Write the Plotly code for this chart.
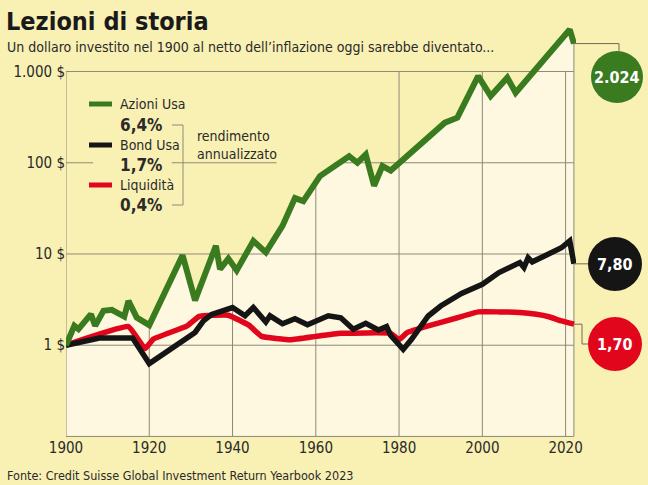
import plotly.graph_objects as go
import numpy as np

# ---------------- data ----------------
years_stocks = [1900, 1902, 1903, 1906, 1907, 1909, 1911, 1914, 1915, 1917,
                1920, 1928, 1931, 1936, 1937, 1939, 1941, 1945, 1948, 1952,
                1955, 1957, 1961, 1968, 1970, 1972, 1974, 1976, 1978, 1991,
                1994, 1999, 2002, 2006, 2008, 2021, 2022]
stocks = [1.0, 1.63, 1.5, 2.19, 1.63, 2.38, 2.44, 2.06, 3.06, 2.01,
          1.66, 9.7, 3.1, 12.3, 6.8, 8.9, 6.6, 13.9, 10.4, 20.3,
          41, 38, 71.5, 118, 100, 123, 56, 92, 82, 275,
          312, 890, 538, 855, 586, 2890, 2024]

years_bonds = [1900, 1908, 1916, 1920, 1931, 1933, 1935, 1940, 1943, 1945,
               1948, 1949, 1952, 1955, 1958, 1963, 1966, 1969, 1972, 1975,
               1977, 1978, 1981, 1983, 1987, 1990, 1995, 2000, 2004, 2009,
               2010, 2011, 2012, 2019, 2021, 2022]
bonds = [1.0, 1.2, 1.2, 0.63, 1.38, 1.85, 2.18, 2.59, 2.1, 2.59,
         1.8, 2.1, 1.72, 1.95, 1.68, 2.1, 2.0, 1.5, 1.74, 1.47,
         1.6, 1.28, 0.9, 1.16, 2.09, 2.69, 3.7, 4.65, 6.25, 8.05,
         7.1, 9.1, 8.2, 11.7, 13.9, 7.8]

years_cash = [1900, 1915, 1919, 1921, 1929, 1932, 1939, 1944, 1947, 1954,
              1960, 1966, 1978, 1980, 1982, 1987, 1994, 1999, 2004, 2009,
              2013, 2016, 2019, 2022]
cash = [1.0, 1.6, 0.92, 1.17, 1.62, 2.07, 2.13, 1.65, 1.25, 1.15,
        1.25, 1.35, 1.35, 1.15, 1.38, 1.63, 2.0, 2.32, 2.32, 2.28,
        2.18, 2.05, 1.85, 1.70]

x_ticks = [1900, 1920, 1940, 1960, 1980, 2000, 2020]
y_ticks = [1, 10, 100, 1000]
y_ticktext = ["1 $", "10 $", "100 $", "1.000 $"]

series_names = ["Azioni Usa", "Bond Usa", "Liquidità"]
series_returns = ["6,4%", "1,7%", "0,4%"]
final_labels = ["2.024", "7,80", "1,70"]

title = "Lezioni di storia"
subtitle = "Un dollaro investito nel 1900 al netto dell’inflazione oggi sarebbe diventato..."
source = "Fonte: Credit Suisse Global Investment Return Yearbook 2023"

# ---------------- style ----------------
W, H = 648, 485
ML, MR, MT, MB = 66, 72, 25, 48
X_RANGE = [1900, 2022.5]
Y_RANGE = [-1.006, 3.51]
BG = "#f9f0b4"
CREAM = "#fdf8df"
GRID = "#8e8a78"
GREEN = "#3a7b1f"
BLACK = "#151515"
RED = "#e2061c"
TXT = "#2a2a2a"
FONT = "DejaVu Sans Condensed, Liberation Sans Narrow, sans-serif"

PW = W - ML - MR
PH = H - MT - MB


def px(xp):
    return (xp - ML) / PW


def py(yp):
    return (H - MB - yp) / PH


def val_to_py(v):
    frac = (np.log10(v) - Y_RANGE[0]) / (Y_RANGE[1] - Y_RANGE[0])
    return H - MB - frac * PH


def year_to_px(yr):
    return ML + (yr - X_RANGE[0]) / (X_RANGE[1] - X_RANGE[0]) * PW


fig = go.Figure()

y_bottom = 10 ** -1
x_first, x_last = years_stocks[0], years_stocks[-1]

# baseline + cream fill under stocks
fig.add_trace(go.Scatter(x=[x_first, x_last], y=[y_bottom, y_bottom], mode="lines",
                         line=dict(width=0), hoverinfo="skip", showlegend=False))
fig.add_trace(go.Scatter(x=years_stocks, y=stocks, mode="lines", line=dict(width=0),
                         fill="tonexty", fillcolor=CREAM, hoverinfo="skip", showlegend=False))

# grid lines
gx, gy = [], []


def seg(x0, x1, y0, y1):
    gx.extend([x0, x1, None])
    gy.extend([y0, y1, None])


for v in [1, 10, 1000]:
    seg(x_first, x_last, v, v)
seg(x_first, x_last, y_bottom, y_bottom)
# 100$ line partially hidden by legend
seg(1900, 1906.5, 100, 100)
seg(1925.4, 1950.6, 100, 100)
seg(1964.5, x_last, 100, 100)
log_st = np.log10(stocks)
for xv in x_ticks[1:]:
    if xv < 1980:
        top = 10 ** np.interp(xv, years_stocks, log_st)
    else:
        top = 1000
    seg(xv, xv, y_bottom, top)
seg(x_first, x_first, y_bottom, 1000)
seg(x_last, x_last, y_bottom, stocks[-1])
fig.add_trace(go.Scatter(x=gx, y=gy, mode="lines", line=dict(color=GRID, width=1),
                         hoverinfo="skip", showlegend=False, connectgaps=False))

# data lines
fig.add_trace(go.Scatter(x=years_cash, y=cash, mode="lines", name=series_names[2],
                         line=dict(color=RED, width=5.5, shape="spline", smoothing=0.3), showlegend=False))
fig.add_trace(go.Scatter(x=years_bonds, y=bonds, mode="lines", name=series_names[1],
                         line=dict(color=BLACK, width=5.5), showlegend=False))
fig.add_trace(go.Scatter(x=years_stocks, y=stocks, mode="lines", name=series_names[0],
                         line=dict(color=GREEN, width=6), showlegend=False))

shapes = []
annotations = []

# legend
leg_colors = [GREEN, BLACK, RED]
leg_y = [104, 145, 185]
pct_y = [125, 165, 205]
for i in range(3):
    shapes.append(dict(type="line", xref="paper", yref="paper",
                       x0=px(89), x1=px(112), y0=py(leg_y[i]), y1=py(leg_y[i]),
                       line=dict(color=leg_colors[i], width=5)))
    annotations.append(dict(text=series_names[i], xref="paper", yref="paper",
                            x=px(118), y=py(leg_y[i]), xanchor="left", yanchor="middle",
                            showarrow=False, font=dict(family=FONT, size=14, color=TXT)))
    annotations.append(dict(text="<b>" + series_returns[i] + "</b>", xref="paper", yref="paper",
                            x=px(118), y=py(pct_y[i]), xanchor="left", yanchor="middle",
                            showarrow=False, font=dict(family=FONT, size=17, color=TXT)))
# bracket
shapes.append(dict(type="path", xref="paper", yref="paper",
                   path=f"M {px(172)} {py(125)} L {px(183)} {py(125)} L {px(183)} {py(205)} L {px(172)} {py(205)}",
                   line=dict(color=GRID, width=1)))
annotations.append(dict(text="rendimento<br>annualizzato", xref="paper", yref="paper",
                        x=px(195), y=py(145), xanchor="left", yanchor="middle", align="left",
                        showarrow=False, font=dict(family=FONT, size=14, color=TXT)))

# end labels with circles and connectors
ends = [stocks[-1], bonds[-1], cash[-1]]
circ_c = [(617, 77), (615, 264), (615, 344)]
circ_r = [26, 27, 27]
for i in range(3):
    cx, cy = circ_c[i]
    r = circ_r[i]
    shapes.append(dict(type="circle", xref="paper", yref="paper",
                       x0=px(cx - r), x1=px(cx + r), y0=py(cy + r), y1=py(cy - r),
                       fillcolor=leg_colors[i], line=dict(width=0)))
    annotations.append(dict(text="<b>" + final_labels[i] + "</b>", xref="paper", yref="paper",
                            x=px(cx), y=py(cy), xanchor="center", yanchor="middle",
                            showarrow=False, font=dict(family=FONT, size=16, color="white")))
xe = year_to_px(x_last)
ye = [val_to_py(v) for v in ends]
conn = [
    f"M {px(xe)} {py(ye[0])} L {px(619)} {py(ye[0])} L {px(619)} {py(circ_c[0][1] - circ_r[0])}",
    f"M {px(xe)} {py(ye[1])} L {px(circ_c[1][0] - circ_r[1])} {py(ye[1])}",
    f"M {px(xe)} {py(ye[2])} L {px(582)} {py(ye[2])} L {px(582)} {py(circ_c[2][1])} L {px(circ_c[2][0] - circ_r[2])} {py(circ_c[2][1])}",
]
for p in conn:
    shapes.append(dict(type="path", xref="paper", yref="paper", path=p,
                       line=dict(color="#6e6a5c", width=1)))

# titles
annotations.append(dict(text="<b>" + title + "</b>", xref="paper", yref="paper",
                        x=px(4), y=py(21), xanchor="left", yanchor="middle",
                        showarrow=False, font=dict(family=FONT, size=25, color="#1a1a1a")))
annotations.append(dict(text=subtitle, xref="paper", yref="paper",
                        x=px(5), y=py(47), xanchor="left", yanchor="middle",
                        showarrow=False, font=dict(family=FONT, size=14, color=TXT)))
annotations.append(dict(text=source, xref="paper", yref="paper",
                        x=px(5), y=py(475), xanchor="left", yanchor="middle",
                        showarrow=False, font=dict(family=FONT, size=12.5, color=TXT)))

fig.update_layout(
    width=W, height=H,
    margin=dict(l=ML, r=MR, t=MT, b=MB, pad=0),
    paper_bgcolor=BG, plot_bgcolor=BG,
    shapes=shapes, annotations=annotations,
    xaxis=dict(range=X_RANGE, tickvals=x_ticks, showgrid=False, zeroline=False,
               showline=False, ticks="", tickfont=dict(family=FONT, size=15, color=TXT)),
    yaxis=dict(type="log", range=Y_RANGE, tickvals=y_ticks, ticktext=y_ticktext,
               showgrid=False, zeroline=False, showline=False, ticks="",
               tickfont=dict(family=FONT, size=15, color=TXT)),
    hovermode=False,
)

fig.write_html("out.html")
